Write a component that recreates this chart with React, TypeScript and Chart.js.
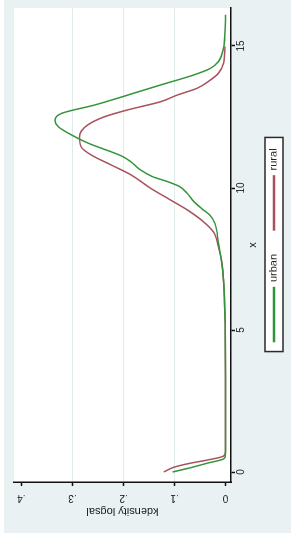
import React, { useEffect, useRef } from "react";
import { Chart, registerables } from "chart.js";

Chart.register(...registerables);

// ---- data ----
const seriesNames = ["urban", "rural"];

const urbanX = [0, 0.15, 0.31, 0.45, 0.55, 1, 3, 5, 6, 6.76, 7.35, 8.05, 8.76, 9.05, 9.28, 9.52, 9.81, 10.05, 10.22, 10.4, 10.63, 10.93, 11.12, 11.3, 11.57, 11.87, 12.16, 12.39, 12.63, 12.92, 13.27, 13.63, 13.98, 14.21, 14.45, 14.92, 15.5, 16.1];
const urbanY = [0.104, 0.069, 0.036, 0.005, 0.0005, 0, 0, 0.0005, 0.002, 0.004, 0.0074, 0.014, 0.021, 0.031, 0.047, 0.062, 0.075, 0.09, 0.113, 0.143, 0.166, 0.186, 0.203, 0.228, 0.268, 0.302, 0.328, 0.334, 0.321, 0.257, 0.192, 0.127, 0.0625, 0.03, 0.014, 0.004, 0.001, 0];

const ruralX = [0, 0.17, 0.31, 0.42, 0.56, 0.7, 3, 5, 6, 6.76, 7.35, 7.93, 8.46, 8.81, 9.23, 9.58, 9.99, 10.46, 10.81, 11.16, 11.45, 11.81, 12.22, 12.51, 12.75, 13.04, 13.27, 13.51, 13.8, 14.04, 14.39, 14.98];
const ruralY = [0.121, 0.101, 0.069, 0.036, 0.004, 0, 0, 0.0005, 0.002, 0.004, 0.007, 0.014, 0.024, 0.043, 0.075, 0.108, 0.147, 0.185, 0.224, 0.263, 0.283, 0.286, 0.27, 0.237, 0.192, 0.127, 0.095, 0.056, 0.03, 0.014, 0.004, 0.001];

const xTicks = [0, 5, 10, 15];
const yTicks = [0, 0.1, 0.2, 0.3, 0.4];
const yTickLabels = ["0", ".1", ".2", ".3", ".4"];
const xTitle = "x";
const yTitle = "kdensity logsal";

// ---- style ----
const W = 539; // unrotated canvas width
const H = 291; // unrotated canvas height
const REGION_BG = "#eaf1f3";
const GRID = "#e2ebee";
const GREEN = "#33943a";
const MAROON = "#a8525c";
const FONT = "'Liberation Sans', Arial, Helvetica, sans-serif";

export default function App() {
  const ref = useRef<HTMLCanvasElement | null>(null);

  useEffect(() => {
    const canvas = ref.current;
    if (!canvas) return;

    const bgPlugin = {
      id: "stataBg",
      beforeDraw(chart: any) {
        const { ctx, chartArea: a } = chart;
        ctx.save();
        ctx.fillStyle = "#ffffff";
        ctx.fillRect(0, 0, W, H);
        ctx.fillStyle = REGION_BG;
        ctx.fillRect(6, 4, W - 6, H - 4);
        ctx.fillStyle = "#ffffff";
        ctx.fillRect(a.left, a.top, a.right - a.left, a.bottom - a.top);
        const lg = chart.legend;
        const hb = lg && lg.legendHitBoxes;
        if (hb && hb.length) {
          const first = hb[0];
          const last = hb[hb.length - 1];
          const cy = first.top + first.height / 2;
          const x0 = first.left - 10;
          const x1 = last.left + last.width + 11;
          ctx.fillStyle = "#ffffff";
          ctx.fillRect(x0, cy - 9, x1 - x0, 18);
          ctx.strokeStyle = "#2a2a2a";
          ctx.lineWidth = 1.5;
          ctx.strokeRect(x0, cy - 9, x1 - x0, 18);
        }
        ctx.restore();
      },
    };

    const chart = new Chart(canvas, {
      type: "line",
      data: {
        datasets: [
          {
            label: seriesNames[0],
            data: urbanX.map((x, i) => ({ x, y: urbanY[i] })),
            borderColor: GREEN,
            backgroundColor: GREEN,
            borderWidth: 1.5,
            pointRadius: 0,
            cubicInterpolationMode: "monotone",
            fill: false,
          },
          {
            label: seriesNames[1],
            data: ruralX.map((x, i) => ({ x, y: ruralY[i] })),
            borderColor: MAROON,
            backgroundColor: MAROON,
            borderWidth: 1.5,
            pointRadius: 0,
            cubicInterpolationMode: "monotone",
            fill: false,
          },
        ],
      },
      options: {
        responsive: false,
        animation: false,
        devicePixelRatio: 1,
        layout: { padding: { left: 0, right: 8, top: 12, bottom: 14.5 } },
        plugins: {
          tooltip: { enabled: false },
          legend: {
            position: "bottom",
            fullSize: false,
            maxHeight: 32,
            labels: {
              boxWidth: 54,
              boxHeight: 1.2,
              padding: 24,
              color: "#1a1a1a",
              font: { family: FONT, size: 11 },
            },
          },
        },
        scales: {
          x: {
            type: "linear",
            position: "bottom",
            min: -0.352,
            max: 16.338,
            afterBuildTicks: (s: any) => {
              s.ticks = xTicks.map((v) => ({ value: v }));
            },
            afterFit: (s: any) => {
              s.height = 13.5;
            },
            ticks: {
              padding: 0,
              color: "#1a1a1a",
              font: { family: FONT, size: 10 },
              maxRotation: 0,
              callback: (v: any) => String(v),
            },
            grid: {
              drawOnChartArea: false,
              drawTicks: true,
              tickLength: 4,
              tickColor: "#111",
              tickWidth: 1.5,
            },
            border: { display: true, color: "#111", width: 1.5 },
            title: {
              display: true,
              text: xTitle,
              color: "#1a1a1a",
              font: { family: FONT, size: 11 },
              padding: { top: 0, bottom: -15.1 },
            },
          },
          y: {
            type: "linear",
            position: "left",
            min: -0.0107,
            max: 0.4146,
            afterBuildTicks: (s: any) => {
              s.ticks = yTicks.map((v) => ({ value: v }));
            },
            afterFit: (s: any) => {
              s.width = 57;
            },
            ticks: {
              padding: 8,
              minRotation: 90,
              maxRotation: 90,
              crossAlign: "center",
              color: "#1a1a1a",
              font: { family: FONT, size: 10 },
              callback: (v: any) => {
                const i = yTicks.findIndex((t) => Math.abs(t - v) < 1e-9);
                return i >= 0 ? yTickLabels[i] : "";
              },
            },
            grid: {
              drawOnChartArea: true,
              drawTicks: true,
              tickLength: 4,
              tickColor: "#111",
              tickWidth: 1.5,
              lineWidth: 1,
              color: (c: any) => {
                const v = c.tick ? c.tick.value : 0;
                return v > 0.05 && v < 0.35 ? GRID : "rgba(0,0,0,0)";
              },
            },
            border: { display: true, color: "#111", width: 1.5 },
            title: {
              display: true,
              text: yTitle,
              color: "#1a1a1a",
              font: { family: FONT, size: 11 },
              padding: { top: 21, bottom: 0 },
            },
          },
        },
      },
      plugins: [bgPlugin],
    } as any);

    return () => chart.destroy();
  }, []);

  return (
    <div
      style={{
        position: "absolute",
        left: 0,
        top: 0,
        width: 291,
        height: 539,
        background: "#ffffff",
        overflow: "hidden",
      }}
    >
      <div
        style={{
          position: "absolute",
          left: 0,
          top: 0,
          width: W,
          height: H,
          transformOrigin: "0 0",
          transform: `translate(0px, ${W}px) rotate(-90deg)`,
        }}
      >
        <canvas ref={ref} width={W} height={H} style={{ display: "block", width: W, height: H }} />
      </div>
    </div>
  );
}
